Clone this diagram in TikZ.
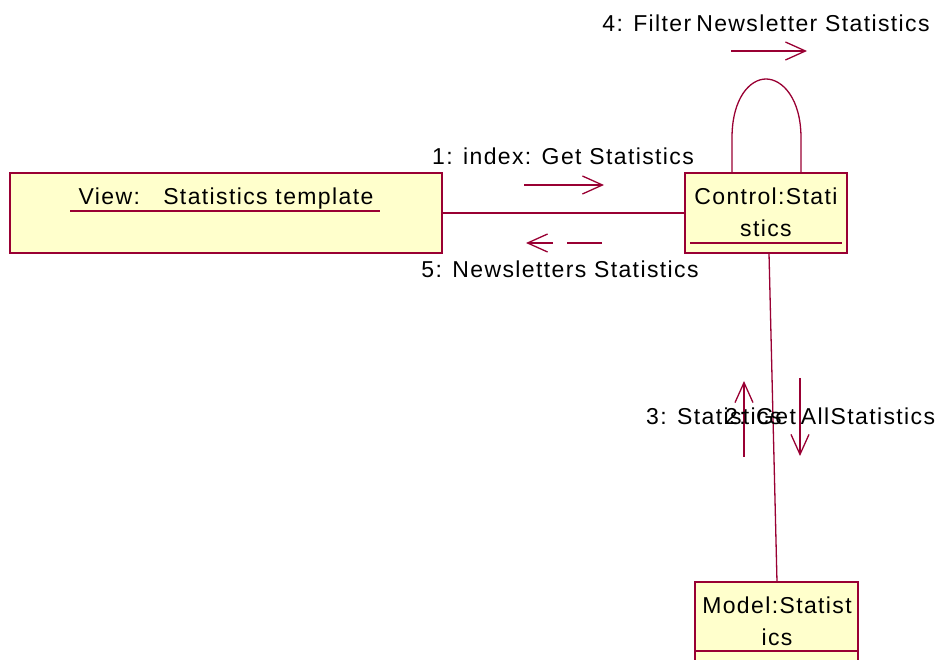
\documentclass[tikz,border=0pt]{standalone}
\usepackage{fontspec}
\setmainfont[LetterSpace=6]{Liberation Sans}
\usetikzlibrary{arrows.meta}
\definecolor{umlred}{RGB}{153,0,51}
\definecolor{umlfill}{RGB}{255,255,204}
\tikzset{
  objbox/.style={draw=umlred, fill=umlfill, line width=1.4pt, rectangle, inner sep=0pt},
  link/.style={draw=umlred, line width=1.3pt},
  msg/.style={draw=umlred, line width=1.3pt, -{Straight Barb[length=20pt,width=18pt,line width=1.3pt]}},
  txt/.style={inner sep=0pt, font=\fontsize{23}{27}\selectfont, text=black},
}
\begin{document}
\begin{tikzpicture}[x=1pt,y=-1pt]
\useasboundingbox (0,0) rectangle (938,660);
% boxes
\node[objbox, minimum width=432pt, minimum height=80pt] (view) at (226,213) {};
\node[objbox, minimum width=162pt, minimum height=80pt] (ctrl) at (766,213) {};
\node[objbox, minimum width=163pt, minimum height=100pt] (model) at (776.5,632) {};
% underlines / compartments
\draw[link] (70,211) -- (380,211);
\draw[link] (690,243) -- (842,243);
\draw[link] (model.west |- 0,651) -- (model.east |- 0,651);
% connectors
\draw[link] (view.east) -- (ctrl.west);
\coordinate (cb) at (769,253);
\coordinate (mt) at (777,582);
\draw[link] (cb) -- (mt);
\coordinate (l1) at (732,173);
\coordinate (l2) at (801,173);
\draw[link] (l1) -- (732,138) .. controls (732,98) and (750,79) .. (766,79) .. controls (782,79) and (801,98) .. (801,138) -- (l2);
% message arrows
\coordinate (a1s) at (524,185); \coordinate (a1e) at (604,185);
\draw[msg] (a1s) -- (a1e);
\coordinate (a5s) at (602,243); \coordinate (a5e) at (526,243);
\draw[msg, dash pattern=on 35pt off 14pt] (a5s) -- (a5e);
\coordinate (a4s) at (731,51); \coordinate (a4e) at (807,51);
\draw[msg] (a4s) -- (a4e);
\coordinate (a3s) at (744,457); \coordinate (a3e) at (744,381);
\draw[msg] (a3s) -- (a3e);
\coordinate (a2s) at (800,378); \coordinate (a2e) at (800,456);
\draw[msg] (a2s) -- (a2e);
% texts
\node[txt, anchor=base] (tview) at (226,205) {View:\ \ \ Statistics template};
\node[txt, anchor=base] (tc1) at (766,205) {Control:Stati};
\node[txt, anchor=base] (tc2) at (766,237) {stics};
\node[txt, anchor=base] (tm1) at (777,613) {Model:Statist};
\node[txt, anchor=base] (tm2) at (777,645) {ics};
\node[txt, anchor=base] (t1) at (563,165) {1: index: Get Statistics};
\node[txt, anchor=base] (t5) at (560,278) {5: Newsletters Statistics};
\node[txt, anchor=base] (t4) at (766,32) {4: Filter\hspace{5pt}Newsletter Statistics};
\node[txt, anchor=base west] (t3) at (646,425) {3: Statistics};
\node[txt, anchor=base west] (t2) at (725,425) {2: Get\hspace{5pt}AllStatistics};
\end{tikzpicture}
\end{document}
